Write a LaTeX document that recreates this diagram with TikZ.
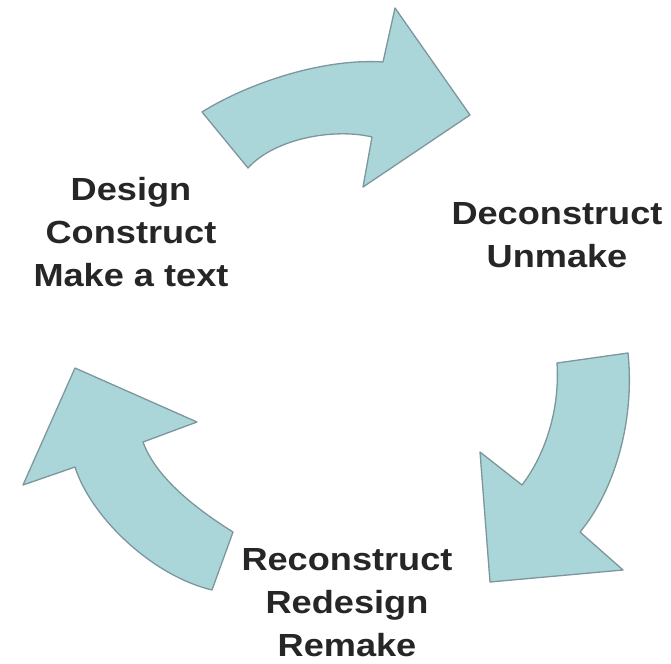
\documentclass[tikz,border=0pt]{standalone}
\usepackage{fontspec}
\setmainfont{Liberation Sans}
\definecolor{arrowfill}{RGB}{170,214,218}
\definecolor{arrowline}{RGB}{125,150,155}
\begin{document}
\begin{tikzpicture}[x=1pt,y=-1pt,
  cyclearrow/.style={fill=arrowfill,draw=arrowline,line width=1.3pt,line join=round},
  lbl/.style={inner sep=0pt,anchor=north,align=center,xscale=1.13,
    font=\fontsize{32}{43}\selectfont\bfseries,text=black!85}]
\useasboundingbox (0,0) rectangle (671,663);
% top arrow
\path[cyclearrow] (202,112) .. controls (245,85) and (320,58) .. (383,62)
  -- (395,8) -- (470,115) -- (363,187) -- (372,137)
  .. controls (335,128) and (275,138) .. (248,168) -- cycle;
% right arrow
\path[cyclearrow] (557,363) -- (628,353)
  .. controls (635,420) and (615,490) .. (580,532)
  -- (623,570) -- (490,582) -- (480,452) -- (522,485)
  .. controls (545,455) and (560,410) .. (557,363) -- cycle;
% left arrow
\path[cyclearrow] (212,590) -- (233,532)
  .. controls (190,505) and (155,475) .. (143,442)
  -- (197,422) -- (75,368) -- (23,485) -- (75,467)
  .. controls (90,515) and (150,575) .. (212,590) -- cycle;
\node[lbl] (design) at (131,177) {Design\\Construct\\Make a text};
\node[lbl] (decon) at (557,202) {Deconstruct\\Unmake};
\node[lbl] (recon) at (347,548) {Reconstruct\\Redesign\\Remake};
\end{tikzpicture}
\end{document}
